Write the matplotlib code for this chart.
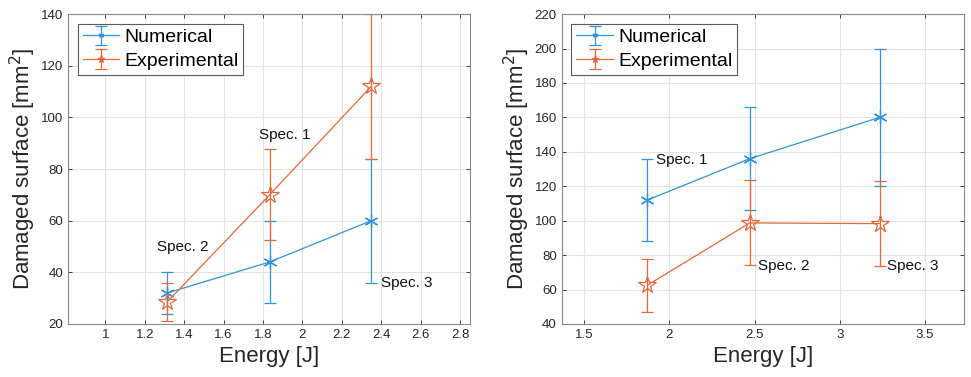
import numpy as np
import matplotlib
matplotlib.use('Agg')
import matplotlib.pyplot as plt

plt.rcParams['font.family'] = ['Liberation Sans', 'DejaVu Sans']

# Left panel: specimens set A
left_energy_num = [1.313, 1.833, 2.349]
left_num = [32, 44, 60]
left_num_err = [8, 16, 24]
left_energy_exp = [1.313, 1.833, 2.349]
left_exp = [28.5, 70, 112]
left_exp_err = [7.2, 17.6, 28]
left_labels = ['Spec. 2', 'Spec. 1', 'Spec. 3']
left_label_pos = [(1.26, 50), (1.78, 93), (2.40, 36)]

# Right panel: specimens set B
right_energy_num = [1.87, 2.471, 3.234]
right_num = [112, 136, 160]
right_num_err = [24, 30, 40]
right_energy_exp = [1.87, 2.471, 3.234]
right_exp = [62.5, 98.7, 98.3]
right_exp_err = [15.5, 24.7, 24.5]
right_labels = ['Spec. 1', 'Spec. 2', 'Spec. 3']
right_label_pos = [(1.92, 135.5), (2.52, 73.5), (3.28, 73.5)]

blue = '#3392d6'
orange = '#e2693a'
axcol = '#262626'

fig = plt.figure(figsize=(9.71, 3.77), dpi=100)
ax1 = fig.add_axes([0.070, 0.1406, 0.414, 0.822])
ax2 = fig.add_axes([0.5785, 0.1406, 0.4143, 0.822])


def draw(ax, xn, yn, en, xe, ye, ee, labels, pos, xlim, ylim, xticks, yticks):
    ax.errorbar(xn, yn, yerr=en, color=blue, lw=0.9, elinewidth=0.9, capsize=4,
                marker=(6, 2, 0), ms=10, mew=0.9, label='Numerical')
    ax.errorbar(xe, ye, yerr=ee, color=orange, lw=0.9, elinewidth=0.9, capsize=4,
                marker='*', ms=13, mew=0.9, mfc='none', label='Experimental')
    for t, (x, y) in zip(labels, pos):
        ax.text(x, y, t, fontsize=11, va='center', ha='left', color='#111111')
    ax.set_xlim(*xlim)
    ax.set_ylim(*ylim)
    ax.set_xticks(xticks)
    ax.set_yticks(yticks)
    ax.set_xticklabels([f'{v:g}' for v in xticks])
    ax.grid(True, color='#e3e3e3', lw=0.8)
    ax.set_axisbelow(True)
    ax.tick_params(direction='in', top=True, right=True, length=3, width=0.6,
                   colors=axcol, labelsize=9.5, labelcolor=axcol)
    for s in ax.spines.values():
        s.set_color('#8a8a8a')
        s.set_linewidth(0.8)
    ax.set_xlabel('Energy [J]', fontsize=16, color=axcol, labelpad=4)
    ax.set_ylabel('Damaged surface [mm$^2$]', fontsize=16, color=axcol, labelpad=2)
    leg = ax.legend(loc='upper left', fontsize=14, fancybox=False, framealpha=1,
                    edgecolor='#5a5a5a', borderpad=0.25, labelspacing=0.3,
                    handlelength=1.9, handletextpad=0.25, borderaxespad=0.5,
                    markerscale=0.4)
    leg.get_frame().set_linewidth(0.8)


draw(ax1, left_energy_num, left_num, left_num_err, left_energy_exp, left_exp, left_exp_err,
     left_labels, left_label_pos, (0.81, 2.85), (20, 140),
     [1, 1.2, 1.4, 1.6, 1.8, 2, 2.2, 2.4, 2.6, 2.8], np.arange(20, 141, 20))
draw(ax2, right_energy_num, right_num, right_num_err, right_energy_exp, right_exp, right_exp_err,
     right_labels, right_label_pos, (1.367, 3.73), (40, 220),
     [1.5, 2, 2.5, 3, 3.5], np.arange(40, 221, 20))

fig.savefig('out.png', dpi=100)
